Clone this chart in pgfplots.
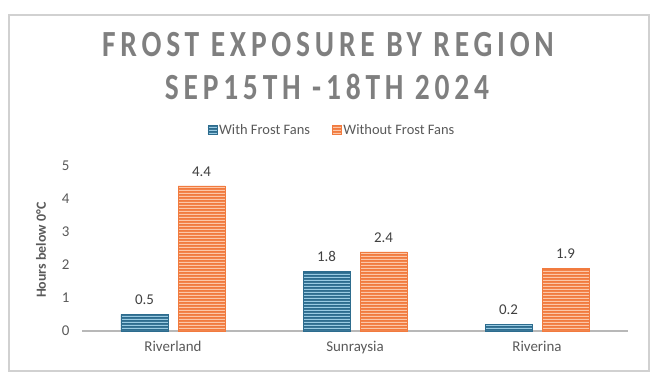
\documentclass[border=0pt]{standalone}
\usepackage{pgfplots}
\pgfplotsset{compat=1.18}
\usetikzlibrary{patterns.meta}
\usepackage{fontspec}
\setmainfont{Carlito}
\newfontfamily\titlefont[LetterSpace=13,FakeStretch=0.8]{Carlito}
\definecolor{bluelight}{HTML}{9ACBE3}
\definecolor{bluedark}{HTML}{2D6C8E}
\definecolor{orlight}{HTML}{FCC7A8}
\definecolor{ordark}{HTML}{F17B3F}
\definecolor{txt}{HTML}{595959}
\definecolor{lbl}{HTML}{404040}
\definecolor{ttl}{HTML}{7F7F7F}
\tikzdeclarepattern{name=hstripe, type=uncolored,
  bounding box={(0bp,0bp) and (700bp,3bp)}, tile size={(700bp,3bp)},
  code={\fill (0bp,0bp) rectangle (700bp,1.4bp);}}
\begin{document}
\begin{tikzpicture}
\path[use as bounding box] (0,0) rectangle (662bp,383bp);
\draw[black!18, line width=1.3bp] (9bp,12bp) rectangle (649bp,368bp);
\node[text=ttl, font=\titlefont\bfseries\fontsize{37}{40}\selectfont] at (328bp,338bp) {FROST EXPOSURE BY REGION};
\node[text=ttl, font=\titlefont\bfseries\fontsize{37}{40}\selectfont] at (327bp,296bp) {SEP15TH -18TH 2024};
\begin{axis}[
  at={(82bp,52bp)}, anchor=south west,
  scale only axis, width=546bp, height=165bp,
  ybar=10bp, bar width=47bp,
  xmin=-0.5, xmax=2.5, ymin=0, ymax=5,
  xtick={0,1,2}, xticklabels={Riverland,Sunraysia,Riverina},
  ytick={0,1,2,3,4,5},
  /pgf/number format/assume math mode=true,
  axis x line*=bottom, axis y line*=left,
  x axis line style={draw=black!28, line width=2bp},
  y axis line style={draw=none},
  major tick length=0pt,
  tick label style={text=txt, font=\fontsize{15}{17}\selectfont},
  xticklabel style={yshift=-7bp},
  yticklabel style={xshift=-9bp},
  ylabel={\bfseries Hours below 0°C},
  ylabel style={at={(axis description cs:-0.075,0.49)}, anchor=center, text=txt, font=\fontsize{14}{16}\selectfont},
  nodes near coords,
  every node near coord/.append style={text=lbl, font=\fontsize{15}{17}\selectfont, yshift=6bp},
  clip=false,
  legend columns=2,
  legend style={at={(0.458,1.218)}, anchor=center, draw=none, fill=none,
    font=\fontsize{14.5}{16}\selectfont, text=txt,
    /tikz/every even column/.append style={column sep=20bp}},
  legend image code/.code={\draw[#1] (0bp,-4bp) rectangle (9bp,5bp);},
]
\addplot[draw=bluedark, fill=bluedark, postaction={pattern={hstripe}, pattern color=bluelight}] coordinates {(0,0.5) (1,1.8) (2,0.2)};
\addplot[draw=ordark, fill=ordark, postaction={pattern={hstripe}, pattern color=orlight}] coordinates {(0,4.4) (1,2.4) (2,1.9)};
\legend{With Frost Fans, Without Frost Fans}
\end{axis}
\end{tikzpicture}
\end{document}
